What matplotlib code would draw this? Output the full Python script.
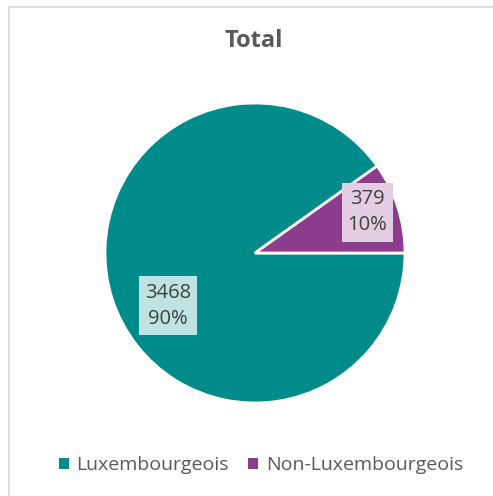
import matplotlib.pyplot as plt
from matplotlib.patches import Rectangle, Patch

categories = ['Luxembourgeois', 'Non-Luxembourgeois']
counts = [3468, 379]
colors = ['#008B8B', '#8C3C8C']
box_colors = ['#BFE2E2', '#E3CDE3']

plt.rcParams['font.family'] = ['Open Sans', 'DejaVu Sans']

W, H = 493, 496
fig = plt.figure(figsize=(W / 100, H / 100), dpi=100)

# light gray chart border (left and top edges visible)
fig.patches.append(Rectangle((8.5 / W, -0.1), 1.2, 1.1 - 6.5 / H, transform=fig.transFigure,
                             fill=False, edgecolor='#D9D9D9', linewidth=1.2))

fig.text(254 / W, 1 - 41 / H, 'Total', ha='center', va='center',
         fontsize=17, fontweight='bold', color='#595959')

ax = fig.add_axes([105 / W, 93 / H, 300 / W, 300 / H])
total = sum(counts)
start = 360 * counts[1] / total
wedges, _ = ax.pie(counts, colors=colors, startangle=start, counterclock=True,
                   wedgeprops=dict(edgecolor='white', linewidth=2))
ax.set_xlim(-1, 1)
ax.set_ylim(-1, 1)

label_pos = [(-0.58, -0.35), (0.75, 0.27)]
for (x, y), n, bc in zip(label_pos, counts, box_colors):
    pct = round(100 * n / total)
    ax.text(x, y, f'{n}\n{pct}%', ha='center', va='center', fontsize=14.5,
            color='#404040', linespacing=1.4,
            bbox=dict(boxstyle='square,pad=0.3', facecolor=bc, edgecolor='none'))

handles = [Patch(facecolor=c, edgecolor='none') for c in colors]
fig.legend(handles, categories, loc='center', bbox_to_anchor=(261 / W, 31 / H),
           ncol=2, frameon=False, fontsize=14, labelcolor='#595959',
           handlelength=0.5, handleheight=0.5, handletextpad=0.4, columnspacing=1.0)

fig.savefig('out.png', dpi=100)
